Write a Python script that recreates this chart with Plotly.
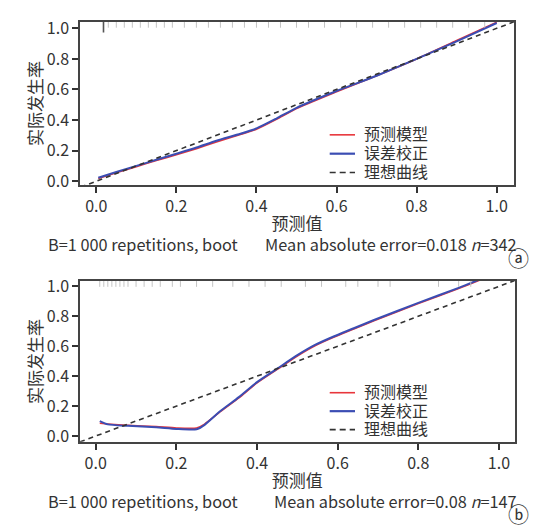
import plotly.graph_objects as go

FONT = "Noto Sans CJK SC"

# ---------------- data ----------------
# panel (a)
a_x = [0.005, 0.05, 0.10, 0.15, 0.20, 0.25, 0.30, 0.36, 0.40, 0.45, 0.50, 0.60, 0.70, 0.80, 0.90, 1.00]
a_apparent = [0.018, 0.055, 0.095, 0.135, 0.173, 0.213, 0.257, 0.305, 0.340, 0.405, 0.475, 0.585, 0.690, 0.800, 0.920, 1.040]
a_bias = [0.022, 0.060, 0.100, 0.140, 0.180, 0.220, 0.265, 0.310, 0.345, 0.410, 0.480, 0.590, 0.690, 0.800, 0.915, 1.035]
a_rug_dark = [0.018]
a_rug = [0.03, 0.05, 0.07, 0.09, 0.11, 0.13, 0.15, 0.17, 0.19, 0.22, 0.25, 0.28, 0.31, 0.34, 0.37,
         0.40, 0.43, 0.46, 0.50, 0.53, 0.57, 0.61, 0.65, 0.69, 0.73, 0.77, 0.81, 0.85, 0.89, 0.93, 0.97]

# panel (b)
b_x = [0.01, 0.03, 0.08, 0.15, 0.20, 0.25, 0.27, 0.31, 0.355, 0.40, 0.45, 0.50, 0.545, 0.59, 0.64, 0.69, 0.80, 0.90, 0.96]
b_apparent = [0.085, 0.080, 0.072, 0.063, 0.054, 0.054, 0.080, 0.165, 0.255, 0.355, 0.445, 0.535, 0.605, 0.660, 0.715, 0.770, 0.885, 0.985, 1.050]
b_bias = [0.100, 0.078, 0.068, 0.058, 0.047, 0.045, 0.075, 0.169, 0.260, 0.360, 0.450, 0.540, 0.610, 0.665, 0.720, 0.775, 0.890, 0.990, 1.055]
b_rug = [0.01, 0.02, 0.03, 0.04, 0.05, 0.06, 0.07, 0.08, 0.10, 0.12, 0.14, 0.16, 0.19, 0.21, 0.25,
         0.29, 0.34, 0.38, 0.42, 0.46, 0.52, 0.56, 0.62, 0.65, 0.70, 0.73, 0.85, 0.90, 0.93]

ideal = [-0.06, 1.06]

names = ["预测模型", "误差校正", "理想曲线"]
xticks = [0.0, 0.2, 0.4, 0.6, 0.8, 1.0]
yticks = [0.0, 0.2, 0.4, 0.6, 0.8, 1.0]
xtitle = "预测值"
ytitle = "实际发生率"
notes_left = ["B=1 000 repetitions, boot", "B=1 000 repetitions, boot"]
notes_right = ["Mean absolute error=0.018 <i>n</i>=342", "Mean absolute error=0.08 <i>n</i>=147"]
panel_tags = ["ⓐ", "ⓑ"]

# ---------------- figure ----------------
W, H = 543, 529
RED = "#e8363c"
BLUE = "#3b4db3"
DASH = "#333333"
TXT = "#333333"


def px_x(p):
    return min(1.0, max(0.0, p / W))


def px_y(p):
    return min(1.0, max(0.0, 1 - p / H))


fig = go.Figure()


def add_panel(idx, xs, app, bias, rug_dark, rug, rug_y, rug_dark_y):
    xa = "x" if idx == 1 else "x2"
    ya = "y" if idx == 1 else "y2"
    fig.add_trace(go.Scatter(x=xs, y=app, mode="lines", name=names[0], showlegend=False,
                             line=dict(color=RED, width=1.6, shape="spline", smoothing=0.6),
                             xaxis=xa, yaxis=ya))
    fig.add_trace(go.Scatter(x=xs, y=bias, mode="lines", name=names[1], showlegend=False,
                             line=dict(color=BLUE, width=2.0, shape="spline", smoothing=0.6),
                             xaxis=xa, yaxis=ya))
    fig.add_trace(go.Scatter(x=ideal, y=ideal, mode="lines", name=names[2], showlegend=False,
                             line=dict(color=DASH, width=1.6, dash="5px,4px"),
                             xaxis=xa, yaxis=ya))
    fig.add_trace(go.Scatter(x=rug, y=[rug_y] * len(rug), mode="markers", showlegend=False,
                             marker=dict(symbol="line-ns-open", size=5, color="#c4c4c4",
                                         line=dict(color="#c4c4c4", width=1)),
                             xaxis=xa, yaxis=ya, hoverinfo="skip"))
    if rug_dark:
        fig.add_trace(go.Scatter(x=rug_dark, y=[rug_dark_y] * len(rug_dark), mode="markers",
                                 showlegend=False,
                                 marker=dict(symbol="line-ns-open", size=9, color="#555555",
                                             line=dict(color="#555555", width=1.6)),
                                 xaxis=xa, yaxis=ya, hoverinfo="skip"))


add_panel(1, a_x, a_apparent, a_bias, a_rug_dark, a_rug, 1.027, 1.014)
add_panel(2, b_x, b_apparent, b_bias, [], b_rug, 1.020, 1.0)

axis_common = dict(showgrid=False, zeroline=False, showline=True, mirror=True,
                   linecolor="#444444", linewidth=1.5, ticks="outside", ticklen=6,
                   tickwidth=1.5, tickcolor="#333333",
                   tickfont=dict(family=FONT, size=16, color=TXT),
                   tickformat=".1f")
title_font = dict(family=FONT, size=17, color=TXT)

fig.update_layout(
    width=W, height=H,
    margin=dict(l=0, r=0, t=0, b=0),
    paper_bgcolor="white", plot_bgcolor="white",
    font=dict(family=FONT, color=TXT),
    showlegend=False,
    xaxis=dict(axis_common, domain=[px_x(72), px_x(506)], range=[-0.0407, 1.0432],
               tickvals=xticks, anchor="y",
               title=dict(text=xtitle, font=title_font, standoff=2)),
    yaxis=dict(axis_common, domain=[px_y(174), px_y(6)], range=[-0.0254, 1.0426],
               tickvals=yticks, anchor="x",
               title=dict(text=ytitle, font=title_font, standoff=0)),
    xaxis2=dict(axis_common, domain=[px_x(72), px_x(506.7)], range=[-0.039, 1.039],
                tickvals=xticks, anchor="y2",
                title=dict(text=xtitle, font=title_font, standoff=2)),
    yaxis2=dict(axis_common, domain=[px_y(438.3), px_y(272.7)], range=[-0.039, 1.036],
                tickvals=yticks, anchor="x2",
                title=dict(text=ytitle, font=title_font, standoff=0)),
)

# legends (line samples + real text)
legend_rows = [[122.3, 141.7, 161.0], [387.7, 406.7, 425.7]]
sample_styles = [dict(color=RED, width=1.6), dict(color=BLUE, width=2.2),
                 dict(color=DASH, width=1.6, dash="6px,4px")]
for rows in legend_rows:
    for k, ry in enumerate(rows):
        fig.add_shape(type="line", xref="paper", yref="paper",
                      x0=px_x(321.7), x1=px_x(347), y0=px_y(ry), y1=px_y(ry),
                      line=sample_styles[k])
        fig.add_annotation(text=names[k], xref="paper", yref="paper", x=px_x(354), y=px_y(ry - 1.5),
                           xanchor="left", yanchor="middle", showarrow=False,
                           font=dict(family=FONT, size=16, color=TXT))

ann_font = dict(family=FONT, size=16.3, color=TXT)
rows = [(235, 266), (499, 529)]
for i, (ty, tagy) in enumerate(rows):
    fig.add_annotation(text=notes_left[i], xref="paper", yref="paper", x=px_x(38), y=px_y(ty),
                       xanchor="left", yanchor="middle", showarrow=False, font=ann_font)
    fig.add_annotation(text=notes_right[i], xref="paper", yref="paper", x=px_x(511), y=px_y(ty),
                       xanchor="right", yanchor="middle", showarrow=False, font=ann_font)
    fig.add_annotation(text=panel_tags[i], xref="paper", yref="paper", x=px_x(510), y=px_y(tagy),
                       xanchor="center", yanchor="bottom", showarrow=False,
                       font=dict(family=FONT, size=21, color=TXT))

fig.write_html("out.html")
